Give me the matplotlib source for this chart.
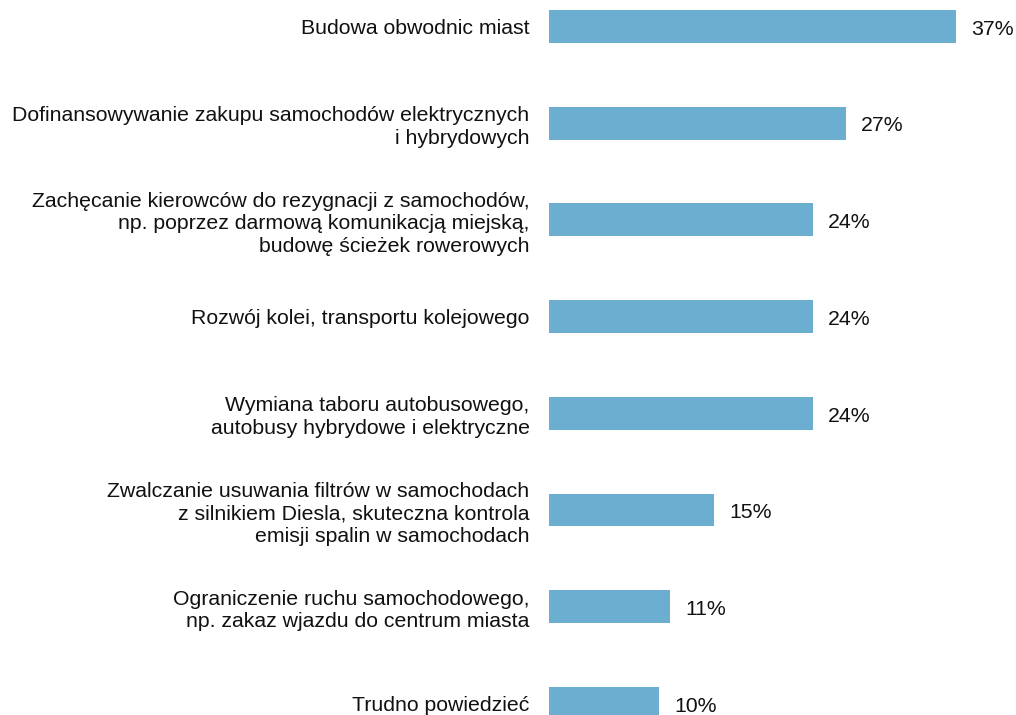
import matplotlib.pyplot as plt

plt.rcParams['font.family'] = ['Liberation Sans', 'DejaVu Sans']

categories = [
    "Budowa obwodnic miast",
    "Dofinansowywanie zakupu samochodów elektrycznych\ni hybrydowych",
    "Zachęcanie kierowców do rezygnacji z samochodów,\nnp. poprzez darmową komunikacją miejską,\nbudowę ścieżek rowerowych",
    "Rozwój kolei, transportu kolejowego",
    "Wymiana taboru autobusowego,\nautobusy hybrydowe i elektryczne",
    "Zwalczanie usuwania filtrów w samochodach\nz silnikiem Diesla, skuteczna kontrola\nemisji spalin w samochodach",
    "Ograniczenie ruchu samochodowego,\nnp. zakaz wjazdu do centrum miasta",
    "Trudno powiedzieć",
]
values = [37, 27, 24, 24, 24, 15, 11, 10]

fig = plt.figure(figsize=(10.16, 7.15), dpi=100)
ax = fig.add_axes([549 / 1016, 0, 467 / 1016, 1])

pos = list(range(len(values)))
ax.barh(pos, values, height=0.34, color='#6BAED0')
for p, v in zip(pos, values):
    ax.annotate(f"{v}%", (v, p), xytext=(11, -2), textcoords='offset points',
                va='center', ha='left', fontsize=15.3, color='#111111')

ax.set_xlim(0, 42.45)
ax.set_ylim(7.12, -0.274)
ax.set_yticks(pos)
ax.set_yticklabels(categories, fontsize=15.3, color='#111111', linespacing=1.25)
ax.tick_params(axis='y', length=0, pad=14)
ax.set_xticks([])
for s in ax.spines.values():
    s.set_visible(False)

fig.savefig('out.png', dpi=100)
